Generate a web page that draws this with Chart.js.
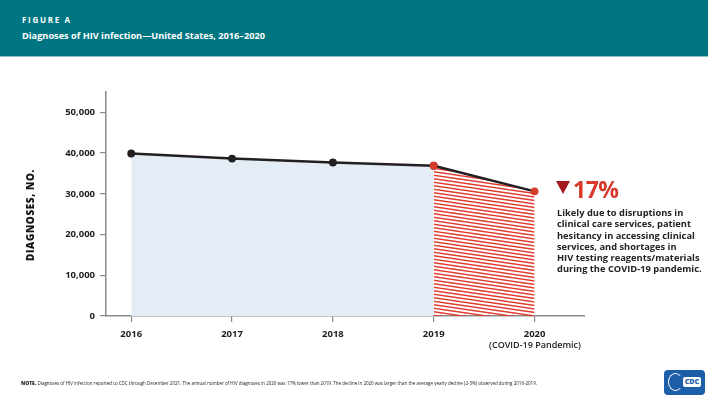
<!DOCTYPE html>
<html>
<head>
<meta charset="utf-8">
<script src="https://cdn.jsdelivr.net/npm/chart.js@4.4.1/dist/chart.umd.min.js"></script>
<style>
  html, body { margin:0; padding:0; width:708px; height:398px; overflow:hidden; background:#fff; font-family:"Open Sans", "DejaVu Sans", sans-serif; }
  #wrap { position:relative; width:708px; height:398px; }
  #c { position:absolute; left:0; top:0; }
  .hdr { position:absolute; left:0; top:0; width:708px; height:56px; background:#007682; border-bottom:1px solid #8cc3c9; }
  .fig { position:absolute; left:22px; top:14px; color:#fff; font-weight:700; font-size:8px; letter-spacing:1.7px; }
  .ttl { position:absolute; left:22px; top:29px; color:#fff; font-weight:700; font-size:9.2px; }
  .ytitle { position:absolute; left:30px; top:215px; transform:translate(-50%,-50%) rotate(-90deg); font-weight:800; font-size:10px; letter-spacing:0.6px; color:#111; white-space:nowrap; }
  .covid { position:absolute; left:535px; top:338px; transform:translateX(-50%); font-size:9px; font-weight:600; color:#222; white-space:nowrap; }
  .pct { position:absolute; left:556px; top:173px; white-space:nowrap; }
  .tri { display:inline-block; width:0; height:0; border-left:7.5px solid transparent; border-right:7.5px solid transparent; border-top:13px solid #A31B1E; vertical-align:middle; margin-right:3px; position:relative; top:-2px; }
  .pnum { color:#D63B2D; font-weight:700; font-size:23px; vertical-align:middle; letter-spacing:-0.5px; }
  .note { position:absolute; left:557px; top:207px; font-weight:700; font-size:9.3px; line-height:11.3px; color:#222; white-space:nowrap; }
  .foot { position:absolute; left:21px; top:380px; font-size:4.5px; color:#222; white-space:nowrap; }
  .foot b { font-weight:800; font-size:5px; }
  .logo { position:absolute; left:664px; top:370px; width:41px; height:25px; background:#1D5EA8; border-radius:4px; }
  .logo .cdc { position:absolute; right:4px; top:7px; background:#fff; color:#1D5EA8; font-weight:800; font-size:7px; line-height:10px; padding:0 2px; border-radius:2px; }
  .logo .eagle { position:absolute; left:4px; top:3px; width:15px; height:18px; border:1.5px solid #fff; border-radius:50%; border-right-color:transparent; box-sizing:border-box; }
</style>
</head>
<body>
<div id="wrap">
  <canvas id="c" width="708" height="398"></canvas>
  <div class="hdr">
    <div class="fig">FIGURE A</div>
    <div class="ttl">Diagnoses of HIV infection—United States, 2016–2020</div>
  </div>
  <div class="ytitle">DIAGNOSES, NO.</div>
  <div class="covid">(COVID-19 Pandemic)</div>
  <div class="pct"><span class="tri"></span><span class="pnum">17%</span></div>
  <div class="note">Likely due to disruptions in<br>clinical care services, patient<br>hesitancy in accessing clinical<br>services, and shortages in<br>HIV testing reagents/materials<br>during the COVID-19 pandemic.</div>
  <div class="foot"><b>NOTE.</b> Diagnoses of HIV infection reported to CDC through December 2021. The annual number of HIV diagnoses in 2020 was 17% lower than 2019. The decline in 2020 was larger than the average yearly decline (2-3%) observed during 2016-2019.</div>
  <div class="logo"><div class="eagle"></div><div class="cdc">CDC</div></div>
</div>
<script>
// ---- data ----
const years = [2016, 2017, 2018, 2019, 2020];
const diagnoses = [39900, 38650, 37700, 36900, 30600];
const yTicks = [0, 10000, 20000, 30000, 40000, 50000];
const preCovidYears = [2016, 2017, 2018, 2019];
const covidYears = [2019, 2020];

// ---- build ----
const preData = preCovidYears.map(y => ({x: y, y: diagnoses[years.indexOf(y)]}));
const covidData = covidYears.map(y => ({x: y, y: diagnoses[years.indexOf(y)]}));

// hatch pattern (slightly slanted red lines)
const TW = 24, TH = 7, SP = 3.5;
const pc = document.createElement('canvas');
pc.width = TW; pc.height = TH;
const px = pc.getContext('2d');
px.strokeStyle = '#E03A2E';
px.lineWidth = 1.3;
for (let k = -3; k <= 3; k++) {
  px.beginPath();
  px.moveTo(0, k * SP);
  px.lineTo(TW, k * SP + SP);
  px.stroke();
}
const hatch = px.createPattern(pc, 'repeat');

const axisColor = '#8a8a8a';
const fontFam = '"Open Sans", "DejaVu Sans", sans-serif';

new Chart(document.getElementById('c'), {
  type: 'line',
  data: {
    datasets: [
      {
        data: covidData,
        borderColor: '#231F20',
        borderWidth: 2.5,
        backgroundColor: hatch,
        fill: 'origin',
        pointRadius: 2.7,
        pointBackgroundColor: '#D63B2D',
        pointBorderColor: '#D63B2D',
        tension: 0
      },
      {
        data: preData,
        borderColor: '#231F20',
        borderWidth: 2.5,
        backgroundColor: '#E4EDF5',
        fill: 'origin',
        pointRadius: 2.7,
        pointBackgroundColor: '#231F20',
        pointBorderColor: '#231F20',
        tension: 0
      }
    ]
  },
  options: {
    responsive: false,
    devicePixelRatio: 1,
    animation: false,
    layout: { padding: { top: 92, right: 123, left: 0, bottom: 0 } },
    plugins: { legend: { display: false }, tooltip: { enabled: false } },
    scales: {
      x: {
        type: 'linear',
        min: 2015.75,
        max: 2020.5,
        afterFit: s => { s.height = 82; },
        afterBuildTicks: s => { s.ticks = years.map(v => ({ value: v })); },
        grid: { drawOnChartArea: false, drawTicks: true, tickLength: 6, color: axisColor, lineWidth: 1.2 },
        border: { color: axisColor, width: 1.5 },
        ticks: {
          padding: 7,
          color: '#222',
          font: { family: fontFam, weight: 'bold', size: 9.5 },
          callback: v => String(v)
        }
      },
      y: {
        min: 0,
        max: 55000,
        afterFit: s => { s.width = 106; },
        afterBuildTicks: s => { s.ticks = yTicks.map(v => ({ value: v })); },
        grid: { drawOnChartArea: false, drawTicks: true, tickLength: 6, color: axisColor, lineWidth: 1.2 },
        border: { color: axisColor, width: 1.5 },
        ticks: {
          padding: 5,
          color: '#222',
          font: { family: fontFam, weight: 'bold', size: 9.5 },
          callback: v => v.toLocaleString('en-US')
        }
      }
    }
  }
});
</script>
</body>
</html>
